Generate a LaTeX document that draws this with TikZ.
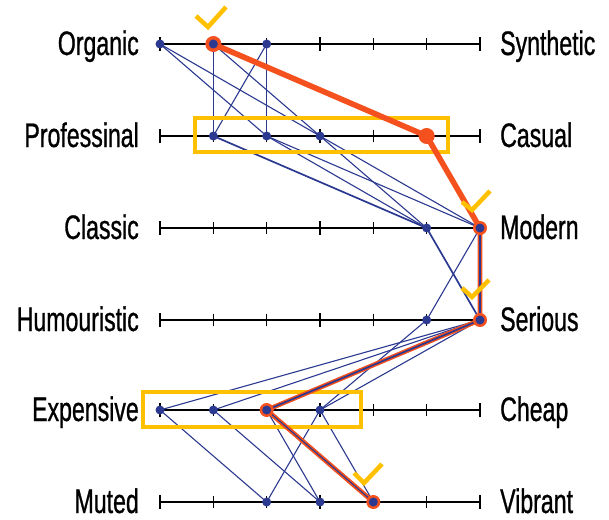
\documentclass[tikz,border=0pt]{standalone}
\usepackage{fontspec}
\newfontfamily\handfont[FakeStretch=0.68,FakeBold=0.8]{Liberation Sans}
\definecolor{navy}{HTML}{2B3990}
\definecolor{flame}{HTML}{F4511E}
\definecolor{gold}{HTML}{FFC000}
\begin{document}
\begin{tikzpicture}[x=1pt,y=-1pt,
  axis/.style={line width=2pt,black},
  endtick/.style={line width=2.6pt,black},
  minortick/.style={line width=1.2pt,black},
  vote/.style={navy,line width=1.1pt},
  votex/.style={navy,line width=1.7pt},
  pick/.style={flame,line width=4.6pt,line join=round,line cap=round},
  pickx/.style={pick,line width=5.6pt},
  frame/.style={gold,line width=4pt},
  tick mark/.style={gold,line width=4.5pt},
  dot/.style={circle,fill=navy,inner sep=0pt,minimum size=9pt},
  ring/.style={circle,fill=flame,inner sep=0pt,minimum size=14pt},
  bigring/.style={circle,fill=flame,inner sep=0pt,minimum size=16pt},
  lefttag/.style={anchor=base east,inner sep=0pt,font=\handfont\fontsize{34}{36}\selectfont},
  righttag/.style={anchor=base west,inner sep=0pt,font=\handfont\fontsize{34}{36}\selectfont}
]
\useasboundingbox (0,0) rectangle (609,519);

% grid of answer positions: six scales, seven steps each
\foreach \r/\yy in {1/44,2/136,3/228,4/320,5/410,6/502}
  \foreach \c in {0,...,6}
    \coordinate (r\r c\c) at ({160+\c*53.333},\yy);

% scales with tick marks
\foreach \r in {1,...,6} {
  \draw[axis] (r\r c0) -- (r\r c6);
  \foreach \c in {0,3,6}
    \draw[endtick] ([yshift=-7pt]r\r c\c) -- ([yshift=7pt]r\r c\c);
  \foreach \c in {1,2,4,5}
    \draw[minortick] ([yshift=-6pt]r\r c\c) -- ([yshift=6pt]r\r c\c);
}

% labels at both ends of each scale
\node[lefttag]  (l1) at ([xshift=-21pt,yshift=-11pt]r1c0) {Organic};
\node[lefttag]  (l2) at ([xshift=-21pt,yshift=-11pt]r2c0) {Professinal};
\node[lefttag]  (l3) at ([xshift=-21pt,yshift=-11pt]r3c0) {Classic};
\node[lefttag]  (l4) at ([xshift=-21pt,yshift=-11pt]r4c0) {Humouristic};
\node[lefttag]  (l5) at ([xshift=-21pt,yshift=-11pt]r5c0) {Expensive};
\node[lefttag]  (l6) at ([xshift=-21pt,yshift=-11pt]r6c0) {Muted};
\node[righttag] (g1) at ([xshift=20pt,yshift=-11pt]r1c6) {Synthetic};
\node[righttag] (g2) at ([xshift=20pt,yshift=-11pt]r2c6) {Casual};
\node[righttag] (g3) at ([xshift=20pt,yshift=-11pt]r3c6) {Modern};
\node[righttag] (g4) at ([xshift=20pt,yshift=-11pt]r4c6) {Serious};
\node[righttag] (g5) at ([xshift=20pt,yshift=-11pt]r5c6) {Cheap};
\node[righttag] (g6) at ([xshift=20pt,yshift=-11pt]r6c6) {Vibrant};

% individual answers
\foreach \a/\b in {r1c0/r2c2,r1c0/r2c3,r1c1/r2c1,r1c1/r2c3,r1c2/r2c2,r1c2/r2c1,
                   r2c2/r3c5,r2c2/r3c6,r2c3/r3c5,r2c3/r3c6,
                   r3c6/r4c5,r3c6/r4c6,
                   r4c6/r5c0,r4c6/r5c1,r4c6/r5c3,r4c5/r5c3,
                   r5c0/r6c2,r5c1/r6c3,r5c2/r6c3,r5c3/r6c2,r5c3/r6c4}
  \draw[vote] (\a) -- (\b);
\draw[votex] (r2c1) -- (r3c5);
\draw[votex] (r3c5) -- (r4c6);

% highlighted groups
\draw[frame] (195,118) rectangle (448,152);
\draw[frame] (143,392) rectangle (361,427);

% target profile
\draw[pickx] (r1c1) -- (r2c5) -- (r3c6);
\draw[pick] (r3c6) -- (r4c6) -- (r5c2) -- (r6c4);
\draw[vote] (r3c6) -- (r4c6);
\draw[votex] (r4c6) -- (r5c2);
\draw[vote] (r5c2) -- (r6c4);
\node[bigring] (o1) at (r1c1) {};
\node[bigring] (o2) at (r2c5) {};
\node[ring] (o3) at (r3c6) {};
\node[ring] (o4) at (r4c6) {};
\node[ring] (o5) at (r5c2) {};
\node[ring] (o6) at (r6c4) {};

% answer dots
\foreach \p in {r1c0,r1c1,r1c2,r2c1,r2c2,r2c3,r3c5,r3c6,r4c5,r4c6,
                r5c0,r5c1,r5c2,r5c3,r6c2,r6c3,r6c4}
  \node[dot] (d\p) at (\p) {};

% check marks
\draw[tick mark] (196,16) -- (208,27) -- (226,7);
\draw[tick mark] (462,202) -- (472,210) -- (490,191);
\draw[tick mark] (462,288) -- (472,297) -- (489,280);
\draw[tick mark] (354,473) -- (364,483) -- (382,464);
\end{tikzpicture}
\end{document}
